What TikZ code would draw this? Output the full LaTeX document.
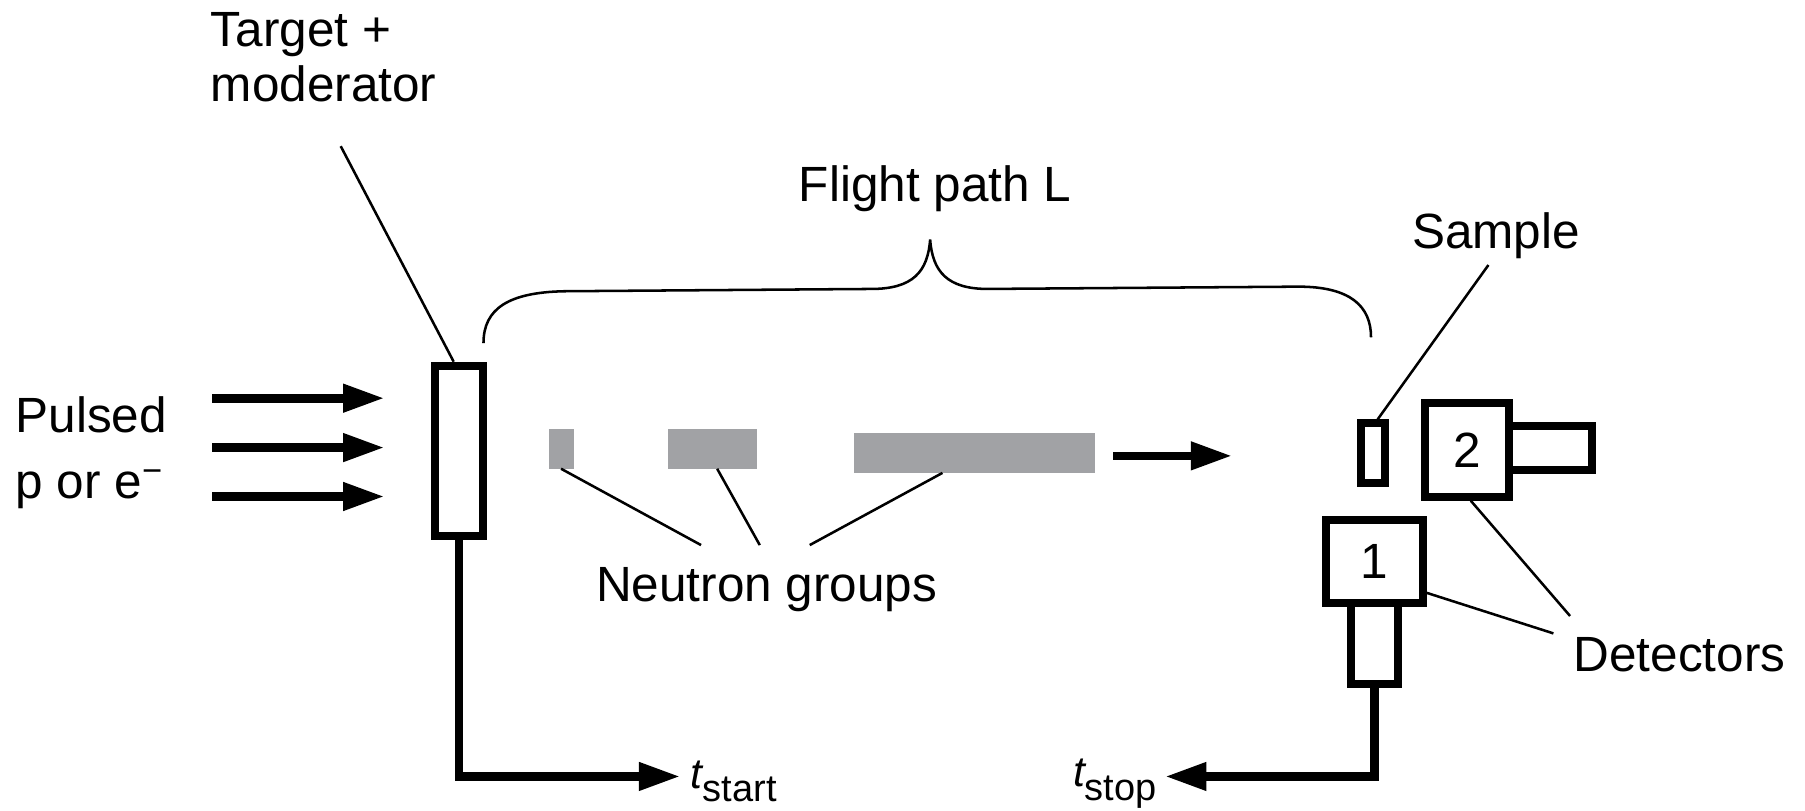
\documentclass[tikz,border=0pt]{standalone}
\usepackage{fontspec}
\setmainfont{Liberation Sans}
\usetikzlibrary{arrows.meta,calc}
\definecolor{grpc}{RGB}{161,162,165}
\begin{document}
\begin{tikzpicture}[x=1pt,y=-1pt,
  font=\fontsize{43}{48}\selectfont,
  heavy/.style={line width=7.5pt},
  thinline/.style={line width=2.2pt},
  box/.style={draw, line width=7pt, inner sep=0pt, fill=white},
  grp/.style={fill=grpc, inner sep=0pt},
  lbl/.style={anchor=base west, inner sep=0pt},
  bigarrow/.style={heavy, -{Triangle[length=36pt,width=23pt]}},
]
\useasboundingbox (0,0) rectangle (1568,704.5);

% shapes
\node[box, minimum width=41.4pt, minimum height=147.9pt] (target) at (398.6,391.65) {};
\node[box, minimum width=21.3pt, minimum height=51.5pt] (sample) at (1192.75,393.55) {};
\node[box, minimum width=71.9pt, minimum height=38.8pt] (tube2) at (1347,389.2) {};
\node[box, minimum width=73.2pt, minimum height=81.3pt] (det2) at (1274.6,390.75) {2};
\node[box, minimum width=40.8pt, minimum height=71pt] (tube1) at (1193.8,559) {};
\node[box, minimum width=84.2pt, minimum height=71.7pt] (det1) at (1193.8,487.65) {1};

\node[grp, minimum width=21.6pt, minimum height=34pt] (g1) at (487.4,390) {};
\node[grp, minimum width=77.5pt, minimum height=34pt] (g2) at (619,390) {};
\node[grp, minimum width=209.4pt, minimum height=34.2pt] (g3) at (846.7,393.5) {};

% labels
\node[lbl] (tgtA) at (183,40.3) {Target +};
\node[lbl] (tgtB) at (183,88.4) {moderator};
\node[lbl] (flight) at (693.8,175) {Flight path L};
\node[lbl] (pulsedA) at (13.3,376) {Pulsed};
\node[lbl] (pulsedB) at (13.3,432.8) {p or e\raisebox{14pt}{\fontsize{30}{30}\selectfont −}};
\node[lbl] (neutron) at (517.6,522.7) {Neutron groups};
\node[lbl] (samplelbl) at (1226.4,215.7) {Sample};
\node[lbl] (detlbl) at (1366.8,583.5) {Detectors};
\node[lbl] (tstart) at (600,684.8) {{\fontsize{37}{40}\selectfont\itshape t}\raisebox{-11.6pt}{\fontsize{33}{34}\selectfont start}};
\node[lbl] (tstop) at (932,683.4) {{\fontsize{37}{40}\selectfont\itshape t}\raisebox{-11.6pt}{\fontsize{33}{34}\selectfont stop}};

% coordinates
\coordinate (in1s) at (184.5,345.9); \coordinate (in1e) at (334.1,345.9);
\coordinate (in2s) at (184.5,388.8); \coordinate (in2e) at (334.1,388.8);
\coordinate (in3s) at (184.5,431.3); \coordinate (in3e) at (334.1,431.3);
\coordinate (fa1) at (967,396); \coordinate (fa2) at (1070.5,396);
\coordinate (startend) at (591,674.5);
\coordinate (stopend) at (1012,674.5);
\coordinate (tgtlead) at (296,127);
\coordinate (ng1) at (609,473.5);
\coordinate (ng2) at (660,473.5);
\coordinate (ng3) at (703.4,473.5);
\coordinate (smplead) at (1293,230.2);
\coordinate (dl1) at (1349.4,550.2);
\coordinate (dl2) at (1363.9,535.1);

% arrows
\draw[bigarrow] (in1s) -- (in1e);
\draw[bigarrow] (in2s) -- (in2e);
\draw[bigarrow] (in3s) -- (in3e);
\draw[bigarrow] (fa1) -- (fa2);
\draw[bigarrow] (target.south) |- (startend);
\draw[bigarrow] (tube1.south) |- (stopend);

% leaders
\draw[thinline] (tgtlead) -- ($(target.north)+(-4.5,0)$);
\draw[thinline] (g1.south) -- (ng1);
\draw[thinline] ($(g2.south)+(4,0)$) -- (ng2);
\draw[thinline] ($(g3.south)+(-28,0)$) -- (ng3);
\draw[thinline] (smplead) -- ($(sample.north)+(4,0)$);
\draw[thinline] ($(det1.south east)+(0,-12)$) -- (dl1);
\draw[thinline] ($(det2.south)+(3,0)$) -- (dl2);

% brace
\coordinate (bl) at (420,298);
\coordinate (btip) at (808,208);
\coordinate (br) at (1191,293);
\draw[thinline] (bl) .. controls (420,268) and (442,254) .. (490,253)
  -- (757,251) .. controls (793,251) and (806,236) .. (btip)
  .. controls (810,236) and (823,251) .. (858,251)
  -- (1128,249) .. controls (1173,249) and (1191,266) .. (br);
\end{tikzpicture}
\end{document}
